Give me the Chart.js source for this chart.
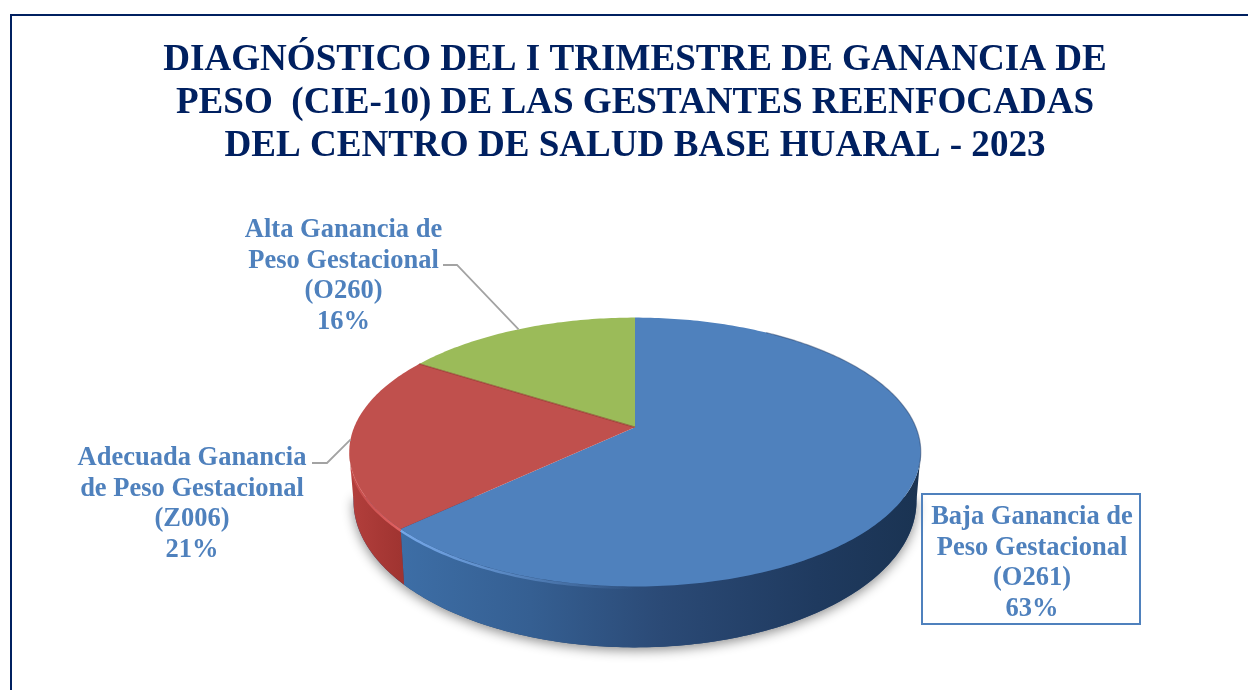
<!DOCTYPE html>
<html><head><meta charset="utf-8">
<style>html,body{margin:0;padding:0;background:#fff;overflow:hidden}#w{width:1248px;height:690px;position:relative}</style>
<script src="https://cdn.jsdelivr.net/npm/chart.js@4"></script>
</head><body><div id="w"><canvas id="c" width="1248" height="690"></canvas></div>
<script>
const titleLines = ["DIAGNÓSTICO DEL I TRIMESTRE DE GANANCIA DE","PESO  (CIE-10) DE LAS GESTANTES REENFOCADAS","DEL CENTRO DE SALUD BASE HUARAL - 2023"];
const categories = ["Baja Ganancia de Peso Gestacional (O261)","Adecuada Ganancia de Peso Gestacional (Z006)","Alta Ganancia de Peso Gestacional (O260)"];
const categoryLines = [["Baja Ganancia de","Peso Gestacional","(O261)"],["Adecuada Ganancia","de Peso Gestacional","(Z006)"],["Alta Ganancia de","Peso Gestacional","(O260)"]];
const values = [63,21,16];
const colors = ["#4f81bd","#c0504d","#9bbb59"];
const labelCenters = [[1032,517],[192,458],[343.5,230]];
const labelLineHeight = 30.8;

// perspective of the tilted disc
const K = -0.185, AX = 2.163;
function project(el, a){
  const u=Math.cos(a), v=Math.sin(a), d=1+K*v, r=el.outerRadius;
  return [el.x + AX*r*u/d, el.y + r*v/d];
}
// lower rim of the disc: the upper rim, enlarged vertically and moved down
const LOWER_SX=0.985, LOWER_SY=1.089, FACE_CY=0.192, LOWER_DY=0.377;
function lowerProject(el,a){
  const p=project(el,a), r=el.outerRadius, cy=el.y+FACE_CY*r;
  return [el.x+(p[0]-el.x)*LOWER_SX, cy+LOWER_DY*r+(p[1]-cy)*LOWER_SY];
}
function rim(ctx, el, a0, a1, fn, first){
  const n=Math.max(4,Math.ceil(Math.abs(a1-a0)*60));
  for(let i=0;i<=n;i++){
    const p=fn(el,a0+(a1-a0)*i/n);
    if(i===0&&first) ctx.moveTo(p[0],p[1]); else ctx.lineTo(p[0],p[1]);
  }
}
// slices: the library's arc element, with its own angles, on the tilted plane
Chart.ArcElement.prototype.draw = function(ctx){
  const o=this.options;
  ctx.save();
  ctx.beginPath();
  ctx.moveTo(this.x,this.y);
  rim(ctx,this,this.startAngle,this.endAngle,project,false);
  ctx.closePath();
  ctx.fillStyle=o.backgroundColor;
  ctx.fill();
  ctx.restore();
};
const sideStops=[
  [["#3d6ea6",0],["#355f92",.25],["#2b4a76",.5],["#1f3a5f",.8],["#1a3352",1]],
  [["#b33f3c",0],["#a03431",1]],
  [["#7d9a45",0],["#7d9a45",1]]
];
const disc3d={id:'disc3d',
  beforeDatasetsDraw(chart){
    const ctx=chart.ctx, els=chart.getDatasetMeta(0).data, e0=els[0];
    // soft shadow under the disc
    ctx.save();
    ctx.shadowColor='rgba(0,0,0,.45)';ctx.shadowBlur=12;ctx.shadowOffsetY=3;
    ctx.fillStyle='#2b4a76';
    ctx.beginPath();rim(ctx,e0,Math.PI*0.05,Math.PI*0.95,lowerProject,true);ctx.closePath();ctx.fill();
    ctx.restore();
    // visible side walls, front half only
    const edge=Math.asin(-K);
    els.forEach((el,i)=>{
      const a0=Math.max(el.startAngle,edge), a1=Math.min(el.endAngle,Math.PI-edge);
      if(a1<=a0) return;
      const p0=project(el,a1),p1=project(el,a0);
      const gg=ctx.createLinearGradient(p0[0],0,p1[0],0);
      sideStops[i].forEach(s=>gg.addColorStop(s[1],s[0]));
      ctx.beginPath();
      rim(ctx,el,a0,a1,project,true);
      rim(ctx,el,a1,a0,lowerProject,false);
      ctx.closePath();
      ctx.fillStyle=gg;ctx.fill();
    });
  },
  afterDatasetsDraw(chart){
    const ctx=chart.ctx, els=chart.getDatasetMeta(0).data;
    // light bevel along the front rim
    const bevel=[["rgba(120,170,235,.95)","rgba(120,170,235,0)"],["rgba(228,100,100,.95)","rgba(228,100,100,.25)"]];
    [0,1].forEach(i=>{
      const el=els[i], a0=i==0?Math.PI/2:el.startAngle, a1=i==0?el.endAngle:2.85;
      const p0=project(el,i==0?a1:a0),p1=project(el,i==0?a0:a1);
      const g=ctx.createLinearGradient(p0[0],i==0?0:p0[1],p1[0],i==0?0:p1[1]);
      g.addColorStop(0,bevel[i][0]);g.addColorStop(1,bevel[i][1]);
      ctx.beginPath();rim(ctx,el,a0,a1,(e,a)=>{const p=project(e,a);return [p[0],p[1]+1.5];},true);
      ctx.strokeStyle=g;ctx.lineWidth=2.5;ctx.stroke();
    });
    // dark edge on the right
    const el=els[0];
    ctx.beginPath();rim(ctx,el,-1.0,0.3,project,true);
    ctx.strokeStyle='rgba(31,56,96,.45)';ctx.lineWidth=1.2;ctx.stroke();
    // darker seam between red and green
    const e2=els[2], q=project(e2,e2.startAngle);
    ctx.beginPath();ctx.moveTo(e2.x,e2.y);ctx.lineTo(q[0],q[1]);
    ctx.strokeStyle='rgba(140,50,40,.6)';ctx.lineWidth=1.5;ctx.stroke();
  }
};
const labelsPlugin={id:'labelsPlugin',
  afterDraw(chart){
    const ctx=chart.ctx, els=chart.getDatasetMeta(0).data;
    ctx.save();
    // frame
    ctx.strokeStyle='#002060';ctx.lineWidth=2;
    ctx.beginPath();ctx.moveTo(11,692);ctx.lineTo(11,15);ctx.lineTo(1248,15);ctx.stroke();
    // leader lines
    ctx.strokeStyle='#a3a3a3';ctx.lineWidth=1.8;
    const leaders={2:[[443,265],[457,265]],1:[[312,463],[327,463]]};
    [1,2].forEach(i=>{
      const el=els[i], end=project(el,(el.startAngle+el.endAngle)/2);
      ctx.beginPath();ctx.moveTo(...leaders[i][0]);ctx.lineTo(...leaders[i][1]);ctx.lineTo(end[0],end[1]);ctx.stroke();
    });
    // box of the first label
    ctx.strokeStyle='#4f81bd';ctx.lineWidth=2;ctx.strokeRect(922,494,218,130);
    // labels
    ctx.fillStyle='#4f81bd';ctx.font='bold 26.5px "Liberation Serif"';ctx.textAlign='center';ctx.textBaseline='middle';
    const total=values.reduce((a,b)=>a+b,0);
    categoryLines.forEach((ls,i)=>{
      const [x,y]=labelCenters[i];
      ls.concat([Math.round(values[i]/total*100)+'%']).forEach((t,j)=>ctx.fillText(t,x,y+j*labelLineHeight));
    });
    ctx.restore();
  }
};
new Chart(document.getElementById('c'),{
  type:'pie',
  data:{labels:categories,datasets:[{data:values,backgroundColor:colors,borderWidth:0}]},
  options:{
    responsive:false,animation:false,rotation:0,
    layout:{padding:{left:22,right:0,top:0,bottom:133}},
    plugins:{
      legend:{display:false},tooltip:{enabled:false},
      title:{display:true,text:titleLines,color:'#002060',
        font:{family:'"Liberation Serif"',weight:'bold',size:37.1,lineHeight:1.162},
        padding:{top:39,bottom:129}}
    }
  },
  plugins:[disc3d,labelsPlugin]
});
</script></body></html>
